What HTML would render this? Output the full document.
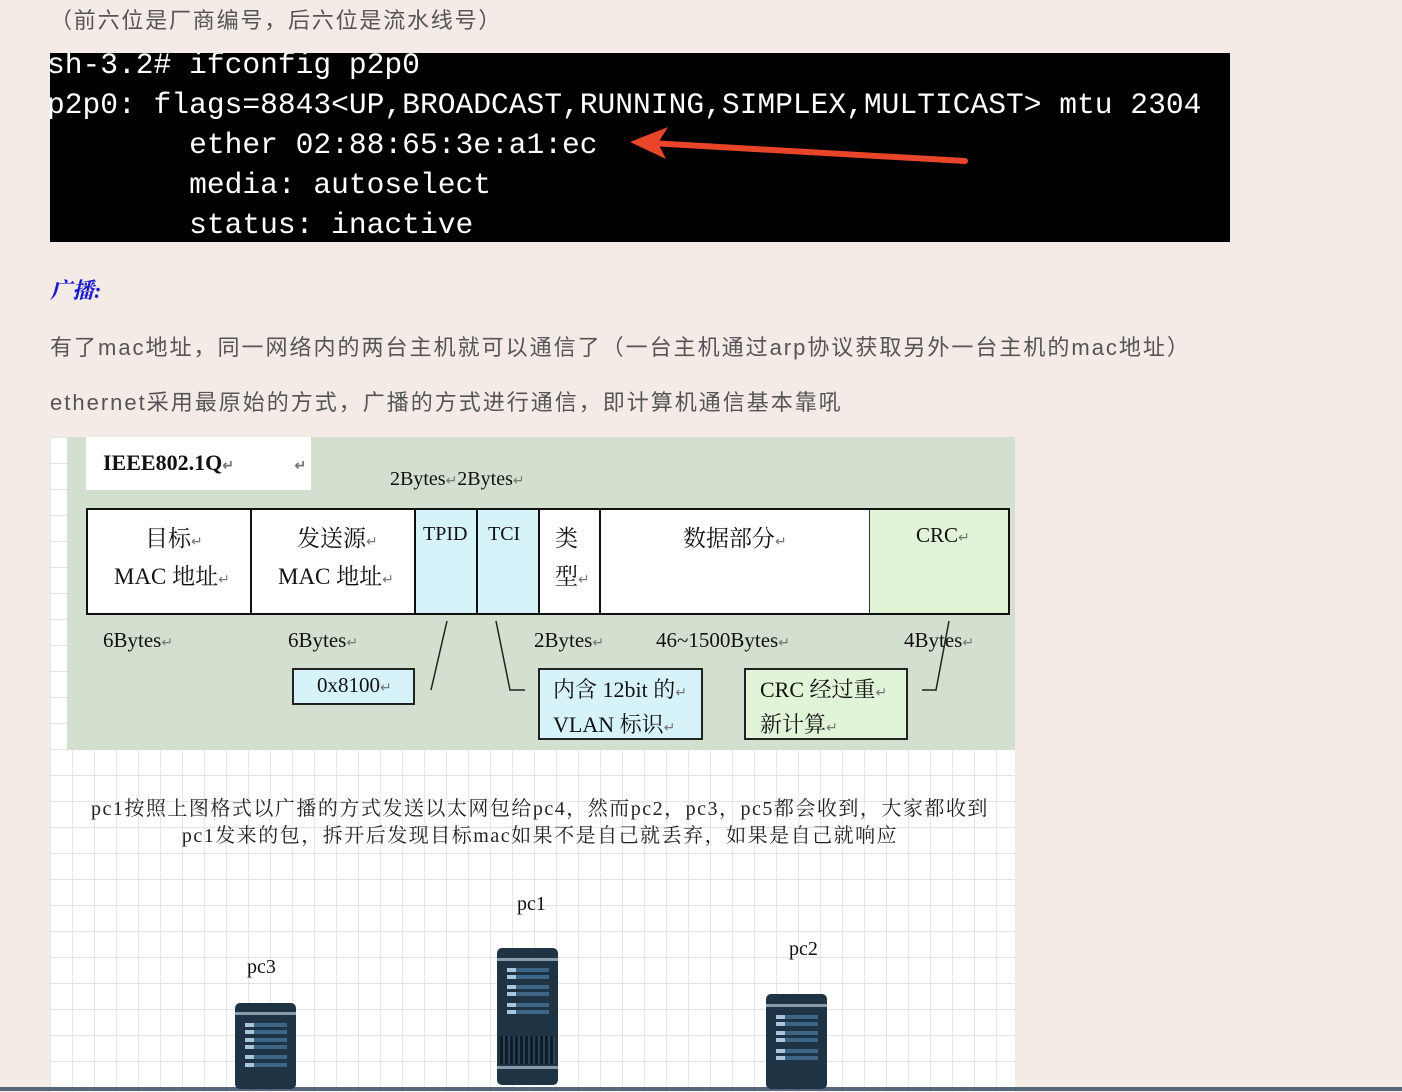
<!DOCTYPE html>
<html><head><meta charset="utf-8"><style>
*{margin:0;padding:0;box-sizing:border-box}
body{width:1402px;height:1092px;background:#f5ebe6;position:relative;overflow:hidden;font-family:"Liberation Sans","Noto Sans CJK SC",sans-serif}
.a{position:absolute;white-space:nowrap}
.t{font-family:"Liberation Mono",monospace;font-size:29.6px;color:#fff;line-height:40px;white-space:pre}
.s{font-family:"Liberation Serif","Noto Serif CJK SC",serif;color:#111}
.r{color:#777;font-size:14px}
.cell{position:absolute;top:0;height:100%;border-right:2px solid #111}
.srv{position:absolute;background:#1e3344;border-radius:5px}
.srv i{position:absolute;left:16%;width:70%;height:4px;background:#3d6585}
.srv i::before{content:"";position:absolute;left:0;top:0;width:22%;height:4px;background:#a9c6da}
.srv b{position:absolute;left:0;right:0;height:3px;background:#8a9aa6}
</style></head><body>
<div class="a" style="left:50px;top:3px;font-size:22px;color:#555;letter-spacing:1.8px">（前六位是厂商编号，后六位是流水线号）</div>
<div class="a" style="left:50px;top:53px;width:1180px;height:189px;background:#000;overflow:hidden">
<div class="a t" style="left:-3px;top:-8px">sh-3.2# ifconfig p2p0
p2p0: flags=8843&lt;UP,BROADCAST,RUNNING,SIMPLEX,MULTICAST&gt; mtu 2304
        ether 02:88:65:3e:a1:ec
        media: autoselect
        status: inactive</div>
<svg class="a" style="left:0;top:0" width="1180" height="189"><path d="M915 108 L600 90" stroke="#e8452a" stroke-width="6" stroke-linecap="round"/><path d="M580 89 L618 74 L608 90 L616 106 Z" fill="#e8452a"/></svg>
</div>
<div class="a" style="left:50px;top:274px;font-size:22px;color:#1a1ad0;font-style:italic;font-weight:bold;font-family:'Liberation Serif','Noto Serif CJK SC',serif">广播:</div>
<div class="a" style="left:50px;top:330px;font-size:22px;color:#555;letter-spacing:2px">有了mac地址，同一网络内的两台主机就可以通信了（一台主机通过arp协议获取另外一台主机的mac地址）</div>
<div class="a" style="left:50px;top:385px;font-size:22px;color:#555;letter-spacing:2px">ethernet采用最原始的方式，广播的方式进行通信，即计算机通信基本靠吼</div>

<div class="a" style="left:50px;top:437px;width:965px;height:655px;background-color:#fff;background-image:linear-gradient(#e3e3e3 1px,transparent 1px),linear-gradient(90deg,#e6e6e6 1px,transparent 1px);background-size:22px 26px"></div>
<div class="a" style="left:67px;top:437px;width:948px;height:313px;background:#d4e0cf"></div>
<div class="a" style="left:86px;top:437px;width:225px;height:53px;background:#fff"></div>
<div class="a s" style="left:103px;top:450px;font-size:22px;font-weight:bold">IEEE802.1Q<span class="r">↵</span> <span class="r" style="margin-left:55px">↵</span></div>
<div class="a s" style="left:390px;top:468px;font-size:20px">2Bytes<span class="r">↵</span>2Bytes<span class="r">↵</span></div>

<div class="a" style="left:86px;top:508px;width:924px;height:107px;border:2px solid #111;background:#fff">
<div class="cell" style="left:0;width:164px"></div>
<div class="cell" style="left:164px;width:164px"></div>
<div class="cell" style="left:328px;width:62px;background:#d6f3fa"></div>
<div class="cell" style="left:390px;width:62px;background:#d6f3fa"></div>
<div class="cell" style="left:452px;width:61px"></div>
<div class="cell" style="left:513px;width:269px;border-right:1px solid #333"></div>
<div class="cell" style="left:782px;width:138px;background:#e2f4d8;border:none"></div>
</div>
<div class="a s" style="left:145px;top:520px;font-size:23px">目标<span class="r">↵</span></div>
<div class="a s" style="left:114px;top:558px;font-size:23px">MAC 地址<span class="r">↵</span></div>
<div class="a s" style="left:297px;top:520px;font-size:23px">发送源<span class="r">↵</span></div>
<div class="a s" style="left:278px;top:558px;font-size:23px">MAC 地址<span class="r">↵</span></div>
<div class="a s" style="left:423px;top:523px;font-size:20px">TPID</div>
<div class="a s" style="left:488px;top:523px;font-size:20px">TCI</div>
<div class="a s" style="left:555px;top:520px;font-size:23px">类</div>
<div class="a s" style="left:555px;top:558px;font-size:23px">型<span class="r">↵</span></div>
<div class="a s" style="left:683px;top:520px;font-size:23px">数据部分<span class="r">↵</span></div>
<div class="a s" style="left:916px;top:523px;font-size:21px">CRC<span class="r">↵</span></div>

<div class="a s" style="left:103px;top:628px;font-size:21px">6Bytes<span class="r">↵</span></div>
<div class="a s" style="left:288px;top:628px;font-size:21px">6Bytes<span class="r">↵</span></div>
<div class="a s" style="left:534px;top:628px;font-size:21px">2Bytes<span class="r">↵</span></div>
<div class="a s" style="left:656px;top:628px;font-size:21px">46~1500Bytes<span class="r">↵</span></div>
<div class="a s" style="left:904px;top:628px;font-size:21px">4Bytes<span class="r">↵</span></div>

<div class="a" style="left:292px;top:668px;width:123px;height:37px;border:2px solid #222;background:#d6f3fa"></div>
<div class="a s" style="left:317px;top:673px;font-size:21px">0x8100<span class="r">↵</span></div>
<div class="a" style="left:538px;top:668px;width:165px;height:72px;border:2px solid #222;background:#d6f3fa"></div>
<div class="a s" style="left:553px;top:673px;font-size:22px">内含 12bit 的<span class="r">↵</span></div>
<div class="a s" style="left:553px;top:708px;font-size:22px">VLAN 标识<span class="r">↵</span></div>
<div class="a" style="left:744px;top:668px;width:164px;height:72px;border:2px solid #222;background:#e2f4d8"></div>
<div class="a s" style="left:760px;top:673px;font-size:22px">CRC 经过重<span class="r">↵</span></div>
<div class="a s" style="left:760px;top:708px;font-size:22px">新计算<span class="r">↵</span></div>

<svg class="a" style="left:0;top:0" width="1402" height="1092"><g stroke="#222" stroke-width="1.5" fill="none">
<path d="M447 621 L431 690"/><path d="M496 621 L510 690 L525 690"/><path d="M949 621 L936 690 L922 690"/></g>
<line x1="0" y1="1089" x2="1402" y2="1089" stroke="#56677a" stroke-width="4"/></svg>

<div class="a s" style="left:60px;top:796px;font-size:20px;width:960px;text-align:center;white-space:normal;line-height:27px;color:#222;letter-spacing:1.5px">pc1按照上图格式以广播的方式发送以太网包给pc4，然而pc2，pc3，pc5都会收到，大家都收到<br>pc1发来的包，拆开后发现目标mac如果不是自己就丢弃，如果是自己就响应</div>
<div class="a s" style="left:517px;top:893px;font-size:20px">pc1</div>
<div class="a s" style="left:247px;top:956px;font-size:20px">pc3</div>
<div class="a s" style="left:789px;top:938px;font-size:20px">pc2</div>

<div class="srv" style="left:235px;top:1003px;width:61px;height:86px"><b style="top:9px"></b><i style="top:20px"></i><i style="top:27px"></i><i style="top:35px"></i><i style="top:42px"></i><i style="top:52px"></i><i style="top:60px"></i></div>
<div class="srv" style="left:497px;top:948px;width:61px;height:137px"><b style="top:10px"></b><i style="top:20px"></i><i style="top:27px"></i><i style="top:37px"></i><i style="top:44px"></i><i style="top:55px"></i><i style="top:62px"></i><div style="position:absolute;left:3px;right:3px;top:88px;height:28px;background:repeating-linear-gradient(90deg,#0e1d28 0 3px,#2a4255 3px 5px)"></div><b style="top:118px"></b></div>
<div class="srv" style="left:766px;top:994px;width:61px;height:95px"><b style="top:10px"></b><i style="top:21px"></i><i style="top:28px"></i><i style="top:37px"></i><i style="top:44px"></i><i style="top:55px"></i><i style="top:62px"></i></div>
</body></html>
